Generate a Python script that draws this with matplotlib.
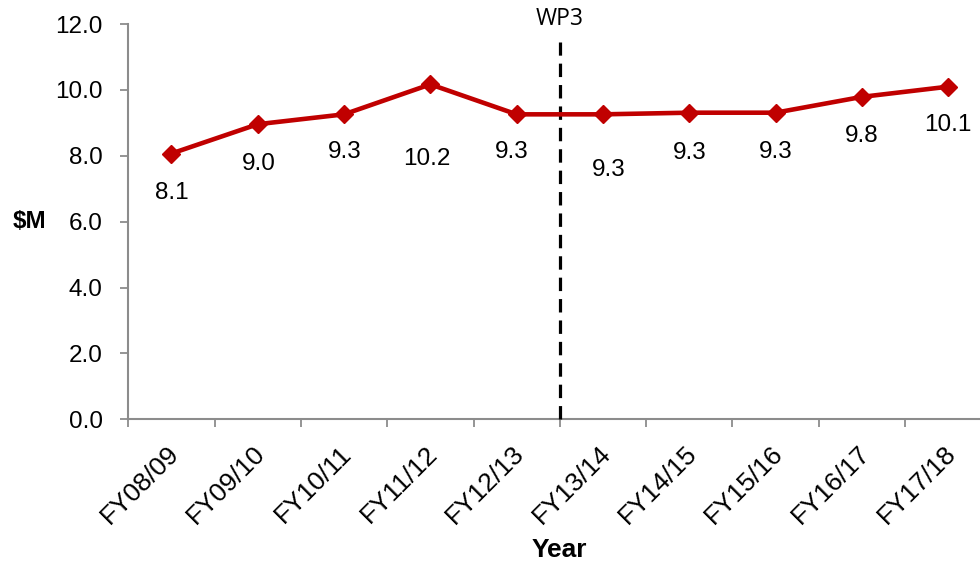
import matplotlib

matplotlib.use("Agg")
import matplotlib.pyplot as plt
import numpy as np
from matplotlib.transforms import ScaledTranslation

plt.rcParams["font.family"] = ["Liberation Sans", "DejaVu Sans"]

# Data ($M per financial year)
years = [
    "FY08/09", "FY09/10", "FY10/11", "FY11/12", "FY12/13",
    "FY13/14", "FY14/15", "FY15/16", "FY16/17", "FY17/18",
]
spend = [8.07, 8.96, 9.26, 10.17, 9.26, 9.26, 9.31, 9.31, 9.79, 10.10]
wp3_after = "FY12/13"  # WP3 boundary sits after this year

# label offsets in pixels below each point (style only)
label_dy = [39, 40, 38, 75, 38, 56, 40, 39, 39, 38]
label_dx = [0, 1, 1, -4, -5, 6, 0, 0, 0, 0]

red = "#C00000"
grey = "#8C8C8C"
fs = 17.5

fig = plt.figure(figsize=(9.8, 5.65), dpi=100)
# axes runs slightly past the right edge like the original crop
ax = fig.add_axes([128.3 / 980, 145.7 / 565, 863 / 980, 395.2 / 565])

x = np.arange(len(years))
ax.plot(x, spend, color=red, lw=3.3, marker="D", ms=8.8, mec=red, mfc=red, zorder=5)

for xi, v, dx, dy in zip(x, spend, label_dx, label_dy):
    ax.annotate(
        f"{v:.1f}", (xi, v), xytext=(dx * 0.72, -dy * 0.72), textcoords="offset points",
        ha="center", va="center", fontsize=fs, color="black",
    )

# WP3 divider
xb = years.index(wp3_after) + 0.5
ax.plot([xb, xb], [0, 11.46], color="black", lw=2.3, ls=(0, (4.2, 2.5)), zorder=4,
        clip_on=False)
ax.text(xb, 12.15, "WP3", ha="center", va="center", fontsize=16.5,
        family=["Open Sans", "DejaVu Sans"], color="black")

ax.set_xlim(-0.5, len(years) - 0.5)
ax.set_ylim(0, 12)
ax.set_yticks(np.arange(0, 12.1, 2))
ax.set_yticklabels([f"{t:.1f}" for t in np.arange(0, 12.1, 2)], fontsize=fs)
ax.set_xticks(x)
ax.set_xticklabels(years, rotation=45, ha="right", va="center",
                   rotation_mode="anchor", fontsize=19)
ax.set_xticks(np.arange(-0.5, len(years)), minor=True)

ax.tick_params(axis="x", which="major", length=0, pad=22)
ax.tick_params(axis="x", which="minor", length=6, width=1.3, color=grey, direction="out")
ax.tick_params(axis="y", length=6, width=1.3, color=grey, direction="out", pad=12.5)

shift = ScaledTranslation(4 / 100, 0, fig.dpi_scale_trans)
for lab in ax.get_xticklabels():
    lab.set_transform(lab.get_transform() + shift)

for s in ["top", "right"]:
    ax.spines[s].set_visible(False)
for s in ["left", "bottom"]:
    ax.spines[s].set_color(grey)
    ax.spines[s].set_linewidth(1.5)

ax.set_ylabel("$M", rotation=0, fontsize=fs, fontweight="bold", ha="center", va="center")
ax.yaxis.set_label_coords(-0.115, 0.5)
ax.set_xlabel("Year", fontsize=19, fontweight="bold", va="center")
ax.xaxis.set_label_coords(0.5, -0.33)

fig.savefig("out.png", dpi=100)
